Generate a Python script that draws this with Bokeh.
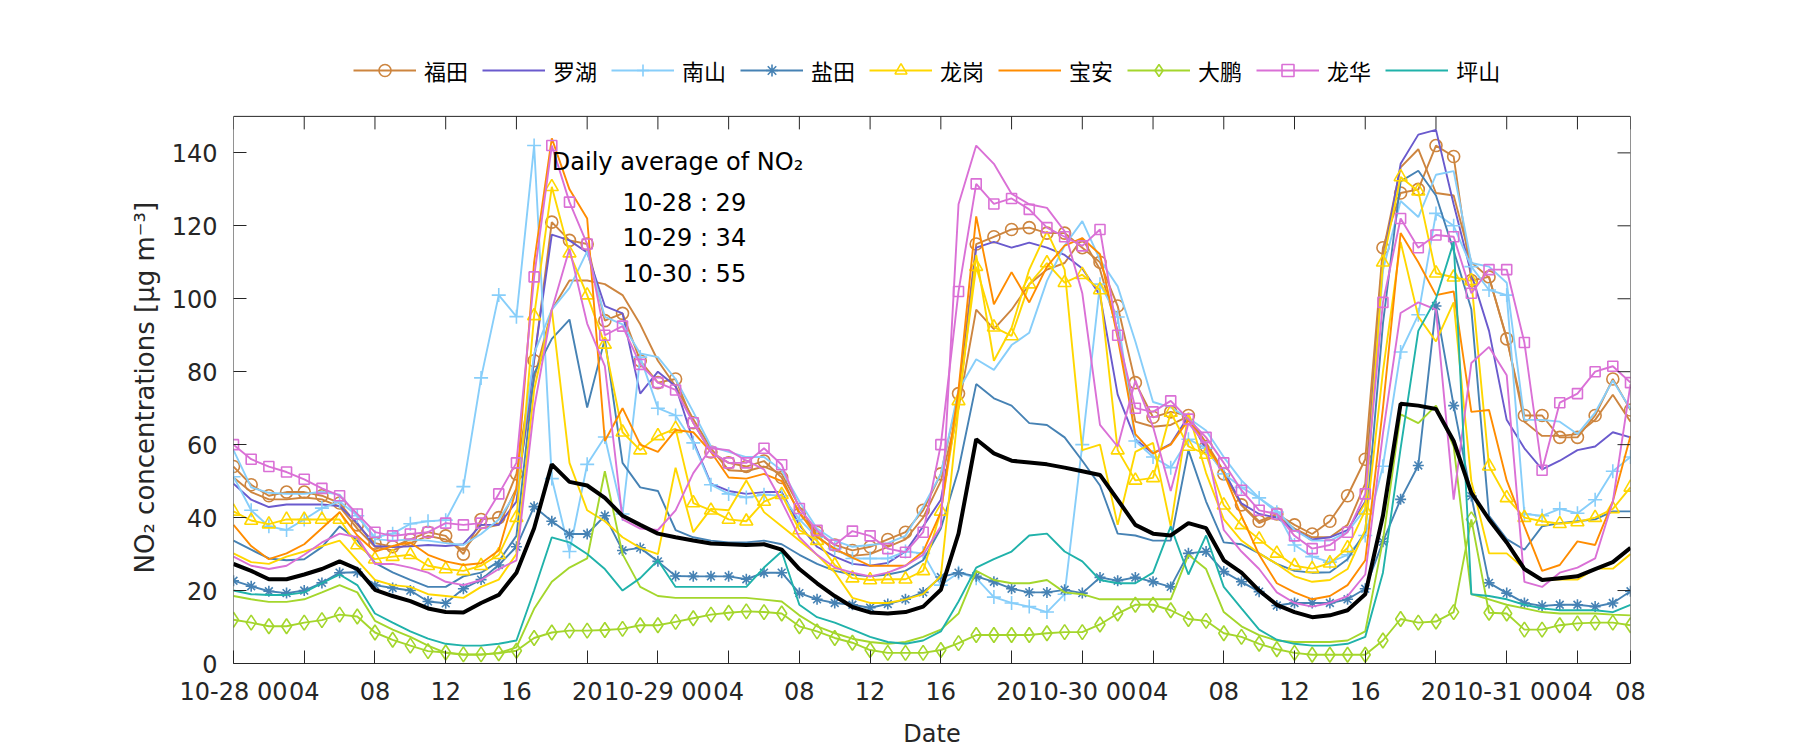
import math
from bokeh.plotting import figure
from bokeh.models import Range1d, FixedTicker, Legend, LegendItem, Label, Title, ColumnDataSource
from bokeh.embed import file_html
from bokeh.resources import INLINE

# ---------------- data ----------------
hours = list(range(80))  # hourly, 10-28 00:00 .. 10-31 07:00

x_tick_pos = [0, 4, 8, 12, 16, 20, 24, 28, 32, 36, 40, 44, 48, 52, 56, 60, 64, 68, 72, 76, 79]
x_tick_labels = ["10-28 00", "04", "08", "12", "16", "20", "10-29 00", "04", "08", "12", "16", "20",
                 "10-30 00", "04", "08", "12", "16", "20", "10-31 00", "04", "08"]
y_ticks = [0, 20, 40, 60, 80, 100, 120, 140]

day_labels = ["10-28", "10-29", "10-30"]
daily_avg = [29, 34, 55]

futian = [54, 49, 46, 47, 47, 46, 44, 38, 33, 32, 34, 36,
          35, 30, 39.5, 40, 52, 83, 121, 116, 115, 94, 96, 83,
          77, 78, 66, 58, 55, 54, 55.5, 51, 41, 36, 32.5, 31,
          32, 34, 36, 42, 52, 74, 115, 117, 119, 119.5, 118, 118,
          114, 110, 98, 77, 67.5, 69, 68, 59.5, 52, 43.5, 39, 41,
          38, 35.5, 39, 46, 56, 114, 129, 130, 142, 139, 105, 106,
          89, 68, 68, 62, 62, 68, 78, 69.5]
luohu = [49.3, 44.9, 42.9, 43.6, 43.6, 43.6, 43.2, 38.5, 32.2, 31.9, 32.1, 32.5,
         32.2, 32.7, 38, 38, 44.4, 83.4, 117.6, 116, 112.7, 98, 96, 74,
         80, 76, 61, 49.3, 47.3, 46.5, 47, 47, 38, 32, 29.3, 27.3,
         26.8, 27.6, 30.7, 37.6, 44.9, 70.7, 114, 115.6, 114, 115.4, 114, 112,
         108.3, 101, 73.7, 61.5, 57.6, 60.2, 67.8, 58.5, 52.7, 43.9, 41, 40,
         36.6, 34, 34.6, 36.6, 44.4, 109.8, 137, 145, 146.3, 125.9, 106.8, 91.2,
         66.8, 59, 53.2, 55.6, 58.5, 59.5, 63.4, 62]
nanshan = [51.2, 42, 37.6, 36.6, 39.5, 42.6, 44.4, 40.5, 34.6, 35.6, 38.3, 39,
           39.3, 48.5, 78.3, 101, 95.1, 142, 50.7, 30.7, 54.6, 62.1, 41, 84,
           70, 68, 60.5, 49, 46.5, 45.5, 46.3, 46, 39.5, 34.6, 31.5, 28.8,
           28.8, 28.8, 30.7, 30.2, 21.5, 24.9, 23.4, 18.2, 16.6, 15.6, 14.1, 19,
           60, 104, 95, 61, 56.6, 53.7, 61.5, 59, 52, 48.3, 45.4, 41.5,
           32.5, 29.3, 27.8, 29.8, 35.1, 54.1, 85.4, 95.6, 123.4, 120, 108.8, 102.4,
           101, 41, 40.5, 42.4, 41.2, 44.9, 52.7, 56.6]
yantian = [22.7, 21.2, 19.8, 19.3, 20, 22.1, 24.9, 25, 21.5, 20.7, 20, 17,
           16.5, 20.5, 23, 27, 32, 43, 39, 35.5, 35.5, 40.5, 31, 31.7,
           28, 24, 23.9, 23.9, 23.9, 23.1, 24.9, 24.9, 19.3, 17.6, 16.6, 16.1,
           15.3, 16.3, 17.6, 19.5, 23.7, 24.9, 23.9, 22.4, 20.5, 19.5, 19.5, 20.2,
           19.3, 23.6, 22.7, 23.6, 22.4, 21, 30.2, 30.7, 25.2, 22.4, 19.7, 15.9,
           16.6, 16.6, 16.6, 17.6, 20.5, 33.4, 45, 54.3, 98, 70.7, 45.9, 22.1,
           19.3, 16.6, 15.8, 16.1, 16.1, 15.6, 16.6, 19.8]
longgang = [41.7, 39.2, 38.2, 39.5, 39.5, 39.5, 39.5, 32.5, 28.6, 29.3, 29.8, 26.8,
            25.9, 25.4, 26.8, 29.8, 40, 95.3, 130.7, 112.5, 101, 87.5, 63.4, 58.5,
            62.4, 64.4, 44, 42, 39.5, 39, 44.4, 46.3, 36.6, 33.7, 27, 23.4,
            22.9, 23.1, 23.1, 25.4, 41.7, 72, 108.8, 92.2, 89.8, 104, 109.8, 104.4,
            106.6, 102.4, 58.5, 50.2, 50.9, 68.8, 59.5, 57.3, 43.4, 38, 34.1, 30.2,
            26.8, 26, 27.5, 31.7, 42, 110, 133.4, 129.5, 107, 105.9, 104.9, 54.1,
            45.4, 40, 39, 38.3, 38.8, 40, 42.4, 48.3]
baoan = [38, 32.2, 28.6, 30.2, 32.7, 37.1, 41.5, 35.1, 30.7, 32.2, 33.2, 29.8,
         28, 27, 27.5, 31, 48, 110, 144, 130, 122, 61, 70, 60,
         58, 64, 63.4, 58, 51, 50.7, 52, 50, 41.5, 34.6, 31.5, 29,
         26.8, 26.8, 26.8, 30.7, 41.5, 75, 122.6, 98.5, 107.3, 99, 108.8, 114.6,
         116.6, 112.2, 89.3, 62.9, 57.6, 60, 66.8, 60, 52.2, 40.5, 29.8, 22,
         19.5, 17.6, 18.5, 21.5, 28.3, 70, 118, 110, 101, 102, 69, 69.5,
         50.2, 37.6, 25.4, 27, 33.5, 32.5, 44.4, 62.4]
dapeng = [12, 11.2, 10.2, 10.2, 11.2, 11.9, 13.4, 12.9, 8.5, 6.5, 4.9, 3.4,
          3, 2.5, 2.5, 2.8, 3.5, 7, 8.5, 9, 9, 9.2, 9.5, 10.5,
          10.5, 11.4, 12.4, 13.4, 13.9, 14.3, 14.1, 13.7, 10.2, 8.8, 7, 5.7,
          3.7, 2.9, 2.9, 2.9, 3.7, 5.6, 7.8, 7.8, 7.8, 7.8, 8.3, 8.6,
          8.6, 10.7, 13.7, 16.1, 16.1, 14.6, 12.2, 11.7, 8.3, 7.3, 5.4, 3.9,
          2.9, 2.4, 2.4, 2.4, 2.4, 6.3, 12.2, 11.2, 11.5, 14.1, 39.5, 13.9,
          13.7, 9.3, 9.3, 10.5, 11, 11.2, 11.2, 10.5]
longhua = [60, 56, 54, 52.5, 50.5, 48, 46, 41, 36, 35, 35.5, 36,
           38.5, 38, 38.5, 46.5, 55, 106, 142, 126.5, 115, 90, 92.5, 82,
           77, 75, 66, 58, 55, 55, 59, 54.5, 42.5, 36.5, 32.5, 36.3,
           35, 31.5, 30.5, 36, 60, 102, 131.5, 126, 127.5, 124.5, 119.5, 117,
           114.5, 119, 90, 70, 69, 72, 67, 62, 55, 47.5, 42, 41,
           35, 31.5, 32.5, 36, 46.5, 99, 122, 114, 117.5, 117, 101.5, 108,
           108, 88, 53, 71.5, 74, 80, 81.5, 77]
pingshan = [20, 19, 18.8, 18.8, 19.5, 22, 24.4, 21.5, 13.7, 11.2, 8.8, 6.8,
            5.4, 4.9, 4.9, 5.4, 6.3, 20, 34.6, 33.2, 30, 25.9, 20, 23.4,
            28.3, 21, 21, 21, 21, 21, 26.3, 30.7, 16.1, 12.7, 11.2, 9.3,
            7.3, 5.9, 5.4, 6.3, 8.8, 17, 26.3, 28.6, 30.7, 35.1, 35.6, 30.7,
            28, 22.9, 22, 22, 24.9, 37.6, 24.4, 35.1, 21, 15.1, 9.3, 6.5,
            5.4, 4.9, 4.9, 5.4, 7.3, 24.9, 59, 91.2, 100, 115.6, 19, 18.5,
            17.6, 16.1, 15.1, 14.6, 14.6, 14.6, 14.1, 16.1]
# second stations (not in legend)
futian_2 = [51, 47, 45, 45, 45.5, 45, 43, 37, 32, 31, 33, 35,
            34, 31, 37, 38, 48, 78, 97, 105, 105, 104, 101, 93,
            83, 76, 67, 59, 53, 52.7, 54, 52, 43, 35, 31, 29.5,
            30, 32, 34, 40, 50, 70, 97, 91.7, 97, 104, 108, 109.8,
            116.6, 108, 91.2, 66.3, 64.9, 65.4, 67.8, 60.5, 52.7, 43.4, 38.5, 40.5,
            37, 34.6, 34.6, 38, 49.3, 112.7, 136, 141, 129, 128.3, 110, 105.8,
            89.3, 66.3, 62.4, 62.4, 62.9, 66.8, 73.7, 66.3]
nanshan_2 = [58.5, 48.3, 46.8, 46.5, 46.5, 47.1, 46.3, 40.5, 34.1, 33.7, 34, 33.7,
             33, 32.5, 35.5, 39.5, 47, 85, 97, 103, 113, 95, 93, 85,
             84, 78, 69, 59.5, 58, 56.6, 56.6, 53, 44.4, 37, 33.7, 32,
             32.5, 33, 35, 43, 52, 75, 83.4, 80.5, 87.3, 90.7, 104.9, 114.6,
             121.3, 110.7, 103.4, 88.3, 71.7, 70.2, 67.3, 63.9, 56.6, 50.2, 45.4, 42,
             36.6, 33.7, 33.7, 36.1, 42.4, 107.8, 126.8, 122.4, 134, 135, 109.8, 108.8,
             104.4, 66.8, 66.8, 66.3, 62.9, 68.8, 77.6, 69.8]
yantian_2 = [33.7, 31.2, 28.8, 28.3, 28.6, 31.9, 37.6, 33.7, 27.6, 25, 22.9, 21,
             21, 23.9, 24.9, 28, 35, 79.5, 89, 94.3, 70.2, 89, 55, 48.3,
             47.3, 36.6, 34.6, 33.7, 33.2, 33.2, 33.7, 32.7, 29.8, 27.3, 25.4, 24.4,
             23.9, 24.4, 25.4, 28.3, 37, 53.2, 76.6, 72.7, 70.7, 65.9, 65.4, 62,
             55.6, 48.8, 35.6, 35.1, 33.7, 33.7, 58.5, 44.4, 33.2, 32.7, 30.2, 27.3,
             25.4, 24.9, 25, 28.6, 36.1, 93.2, 132.2, 135.1, 128.3, 113.2, 97.1, 40.5,
             34.1, 31.2, 37.6, 38.5, 39, 39.5, 41.7, 41.7]
longgang_2 = [30.2, 27.8, 27.3, 29.3, 30.7, 32.2, 33.7, 28.3, 22.9, 21.5, 21, 19,
              18.5, 18, 21, 23, 30, 75, 97, 55, 42, 39, 34.6, 31.7,
              30, 53.7, 36, 42.4, 42, 50.2, 41.5, 37.6, 33.7, 29.8, 25, 18,
              16.6, 16.6, 17.6, 19, 24, 70, 112, 83, 92, 108, 118.5, 108,
              58.5, 60, 38, 58, 60.5, 37.6, 68.8, 52.2, 39.5, 33.7, 30.2, 27.3,
              23.9, 22.4, 22.9, 25.9, 36.6, 80, 115.6, 95.1, 88.3, 99, 50, 30.2,
              30.2, 26, 23, 23, 23, 26, 26, 30]
dapeng_2 = [18.5, 17.6, 16.9, 16.9, 17.6, 19.5, 21.5, 19.5, 11.7, 9.3, 7.3, 4.9,
            2.9, 2.4, 2.4, 2.9, 4.4, 15, 22.4, 26.3, 28.8, 52.7, 30, 21,
            18.5, 18, 18, 18, 18, 18, 17.5, 17, 13.2, 10.2, 8.3, 6.8,
            5.9, 5.4, 5.9, 7.3, 9.3, 13.7, 25.4, 22.9, 22, 22, 22.9, 19.5,
            19, 17.6, 17.6, 17.6, 17.6, 17.6, 29.8, 25.9, 14.1, 10.2, 7.8, 6.3,
            5.9, 5.9, 5.9, 6.3, 8.8, 33.7, 68.3, 65.9, 70.7, 59.5, 19, 17.6,
            16.1, 15.1, 14.1, 13.7, 13.7, 13.7, 13.4, 13.2]
longhua_2 = [29.3, 26.8, 25.9, 26.8, 29.8, 33.2, 35.6, 34.6, 27.3, 27.3, 26.3, 24.9,
             22.4, 21.5, 22.9, 25.9, 28.3, 70, 97, 113.7, 93.2, 81.5, 39.5, 37,
             36.6, 42, 52.2, 59, 58.5, 55.6, 53.2, 44.4, 34.6, 29.8, 26.3, 24.9,
             23.9, 24.9, 26.8, 29.8, 37.6, 125.9, 142, 137, 128.8, 125.9, 124.9, 118.5,
             101.5, 65.4, 59.5, 77.6, 64.9, 47.3, 65.9, 60, 36.6, 30.7, 25.9, 19.5,
             16.6, 15.6, 16.6, 18.5, 24.4, 63, 96.1, 99, 97, 44.9, 82.4, 86.8,
             79, 22.4, 21, 24.9, 26.3, 28.8, 44.4, 76.6]
city_mean = [27.3, 25.4, 23.1, 23.1, 24.4, 25.9, 28, 25.9, 20.2, 18.5, 17.1, 15.1,
             14.1, 14, 16.6, 18.8, 24.9, 37.1, 54.6, 49.8, 48.8, 45.4, 40.5, 38,
             35.6, 34.6, 33.7, 32.9, 32.7, 32.5, 32.7, 31.2, 25.9, 22, 18.5, 15.5,
             14, 13.7, 14.1, 15.6, 20.2, 35.6, 61.5, 57.6, 55.6, 55.1, 54.6, 53.7,
             52.7, 51.7, 44.9, 38, 35.6, 35.1, 38.5, 37.1, 28.3, 24.9, 20, 16.1,
             14.1, 12.7, 13.2, 14.6, 19, 40.5, 71.2, 70.7, 69.8, 61, 46.8, 39.5,
             33.2, 25.9, 22.9, 23.4, 23.9, 25.9, 27.8, 31.7]

# ---------------- styles / geometry ----------------
FONT = "DejaVu Sans"
CJK = "Noto Sans CJK SC"
AX = "#262626"
TXT = "24px"

X_MIN, X_MAX = 0, 79        # axis limits (hours)
Y_MIN, Y_MAX = 0, 150       # axis limits (ug/m3)
W, H = 1800, 750
BOX_LEFT, BOX_RIGHT, BOX_TOP, BOX_BOTTOM = 233, 1630, 116, 664   # px of the axes box
FRAME_TOP = 48              # frame extends above the box to host the legend
# extend the y range so that Y_MAX falls exactly on the box top
y_top = Y_MAX * (BOX_BOTTOM - FRAME_TOP) / (BOX_BOTTOM - BOX_TOP)

# (legend name, values, colour, marker, marker size, second-station values)
series = [
    ("福田", futian, "#CD853F", "circle", 12, futian_2),
    ("罗湖", luohu, "#6A5ACD", None, 0, None),
    ("南山", nanshan, "#87CEFA", "cross", 14, nanshan_2),
    ("盐田", yantian, "#4682B4", "asterisk", 11, yantian_2),
    ("龙岗", longgang, "#FFD700", "triangle", 13, longgang_2),
    ("宝安", baoan, "#FF8C00", None, 0, None),
    ("大鹏", dapeng, "#A4D62C", "diamond", 15, dapeng_2),
    ("龙华", longhua, "#DA70D6", "square", 10, longhua_2),
    ("坪山", pingshan, "#20B2AA", None, 0, None),
]

p = figure(width=W, height=H, x_range=Range1d(X_MIN, X_MAX), y_range=Range1d(Y_MIN, y_top),
           output_backend="svg", toolbar_location=None,
           min_border_left=BOX_LEFT, min_border_right=W - BOX_RIGHT,
           min_border_top=FRAME_TOP, min_border_bottom=H - BOX_BOTTOM,
           background_fill_color="white", border_fill_color="white",
           outline_line_color=None)
p.grid.visible = False

LW = 1.9
items = []
for name, vals, col, marker, msize, second in series:
    src = ColumnDataSource(dict(x=hours, y=vals))
    rends = [p.line("x", "y", source=src, line_color=col, line_width=LW)]
    if marker is not None:
        rends.append(p.scatter("x", "y", source=src, marker=marker, size=msize,
                               line_color=col, line_width=1.6, fill_color=None))
    if second is not None:
        src2 = ColumnDataSource(dict(x=hours, y=second))
        p.line("x", "y", source=src2, line_color=col, line_width=LW)
    items.append(LegendItem(label=name, renderers=rends))

src_mean = ColumnDataSource(dict(x=hours, y=city_mean))
p.line("x", "y", source=src_mean, line_color="black", line_width=4)

# ---------------- axes ----------------
def style_axis(ax):
    ax.major_tick_in = 13
    ax.major_tick_out = 0
    ax.minor_tick_in = 0
    ax.minor_tick_out = 0
    ax.axis_line_color = AX
    ax.major_tick_line_color = AX
    ax.major_label_text_font = FONT
    ax.major_label_text_font_size = TXT
    ax.major_label_text_color = AX
    ax.axis_label_text_font = FONT
    ax.axis_label_text_font_size = TXT
    ax.axis_label_text_font_style = "normal"
    ax.axis_label_text_color = AX

xa = p.xaxis[0]
xa.ticker = FixedTicker(ticks=x_tick_pos)
xa.major_label_overrides = {k: v for k, v in zip(x_tick_pos, x_tick_labels)}
xa.axis_label = "Date"
style_axis(xa)
xa.major_label_standoff = 14
xa.axis_label_standoff = 11

ya = p.yaxis[0]
ya.ticker = FixedTicker(ticks=y_ticks)
style_axis(ya)
ya.axis_line_color = None
ya.major_label_standoff = 16

# y-axis title, anchored on the box bottom so it stays centred on the box
y_title = Title(text="NO₂ concentrations [μg m⁻³]", align="left", offset=90,
                standoff=18, text_font=FONT, text_font_size="26px",
                text_font_style="normal", text_color=AX)
p.add_layout(y_title, "left")

# the axes box (left, top, right edges) and inward ticks on top / right
p.segment(x0=[X_MIN, X_MIN, X_MAX], y0=[Y_MIN, Y_MAX, Y_MIN],
          x1=[X_MIN, X_MAX, X_MAX], y1=[Y_MAX, Y_MAX, Y_MAX], line_color=AX, line_width=1)
p.ray(x=x_tick_pos, y=[Y_MAX] * len(x_tick_pos), length=13, length_units="screen",
      angle=-math.pi / 2, line_color=AX, line_width=1)
p.ray(x=[X_MAX] * len(y_ticks), y=y_ticks, length=13, length_units="screen",
      angle=math.pi, line_color=AX, line_width=1)

# ---------------- legend ----------------
LEG_H = 30
legend = Legend(items=items, orientation="horizontal",
                location=(120, BOX_BOTTOM - 72 - LEG_H // 2),
                glyph_width=63, glyph_height=LEG_H, label_height=LEG_H, label_standoff=8,
                spacing=14, padding=0, margin=0,
                border_line_alpha=0, background_fill_alpha=0,
                label_text_font=CJK, label_text_font_size="22px", label_text_color="black")
p.add_layout(legend)

# ---------------- annotation ----------------
p.add_layout(Label(x=18, y=137.5, text="Daily average of NO₂", text_font=FONT,
                   text_font_size=TXT, text_baseline="middle", text_color="black"))
for i, (d, a) in enumerate(zip(day_labels, daily_avg)):
    p.add_layout(Label(x=22, y=126.3 - 9.7 * i, text=f"{d} : {a}", text_font=FONT,
                       text_font_size=TXT, text_baseline="middle", text_color="black"))

open("out.html", "w").write(file_html(p, INLINE))
